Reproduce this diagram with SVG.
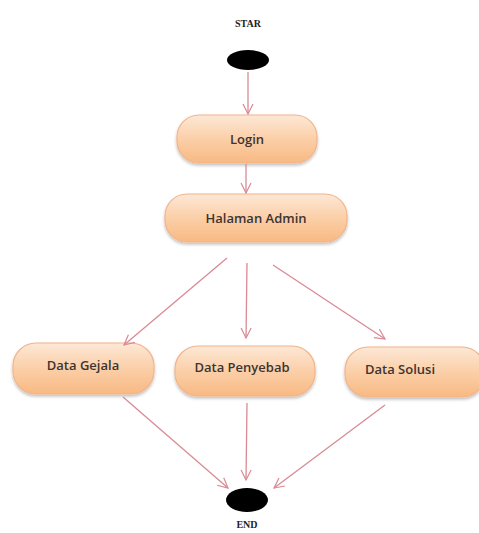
<svg xmlns="http://www.w3.org/2000/svg" width="479" height="533" viewBox="0 0 479 533">
<defs>
<linearGradient id="g" x1="0" y1="0" x2="0" y2="1">
<stop offset="0" stop-color="#fde8d6"/>
<stop offset="0.5" stop-color="#fbcfa8"/>
<stop offset="1" stop-color="#f8b983"/>
</linearGradient>
<filter id="sh" x="-10%" y="-20%" width="120%" height="150%">
<feDropShadow dx="0" dy="2" stdDeviation="1.5" flood-color="#000" flood-opacity="0.25"/>
</filter>
<marker id="ah" viewBox="0 0 12 12" refX="11" refY="6" markerWidth="12" markerHeight="12" markerUnits="userSpaceOnUse" orient="auto">
<path d="M1,1 L11,6 L1,11" fill="none" stroke="#d98a94" stroke-width="1.2"/>
</marker>
<style>
.n{fill:url(#g);stroke:#f2b48a;stroke-width:1.2;filter:url(#sh)}
.t{font-family:"Open Sans","Liberation Sans",sans-serif;font-weight:600;font-size:13px;fill:#3d3430;text-anchor:middle;dominant-baseline:central}
.lbl{font-family:"Liberation Serif",serif;font-weight:bold;font-size:10px;fill:#222;text-anchor:middle}
.c{stroke:#d98a94;stroke-width:1.3;fill:none;marker-end:url(#ah)}
</style>
</defs>
<rect width="479" height="533" fill="#fff"/>
<g id="start">
<text class="lbl" x="248" y="27">STAR</text>
<ellipse cx="248" cy="60" rx="21" ry="10" fill="#000"/>
</g>
<g id="login">
<rect class="n" x="177" y="115" width="140" height="48" rx="22"/>
<text class="t" x="247" y="139">Login</text>
</g>
<g id="admin">
<rect class="n" x="165" y="194" width="182" height="48" rx="22"/>
<text class="t" x="256" y="218">Halaman Admin</text>
</g>
<g id="gejala">
<rect class="n" x="13" y="343" width="141" height="51" rx="23"/>
<text class="t" x="83" y="365">Data Gejala</text>
</g>
<g id="penyebab">
<rect class="n" x="175" y="346" width="140" height="50" rx="23"/>
<text class="t" x="242" y="367">Data Penyebab</text>
</g>
<g id="solusi">
<rect class="n" x="345" y="347" width="140" height="50" rx="23"/>
<text class="t" x="400" y="369">Data Solusi</text>
</g>
<g id="end">
<ellipse cx="247" cy="500" rx="21" ry="12" fill="#000"/>
<text class="lbl" x="247" y="528">END</text>
</g>
<g id="connectors">
<line class="c" x1="248" y1="72" x2="248" y2="114"/>
<line class="c" x1="246" y1="164" x2="246" y2="193"/>
<line class="c" x1="227" y1="258" x2="124" y2="345"/>
<line class="c" x1="247" y1="263" x2="246" y2="338"/>
<line class="c" x1="273" y1="265" x2="385" y2="339"/>
<line class="c" x1="123" y1="397" x2="228" y2="488"/>
<line class="c" x1="247" y1="403" x2="246" y2="480"/>
<line class="c" x1="385" y1="405" x2="274" y2="488"/>
</g>
</svg>
